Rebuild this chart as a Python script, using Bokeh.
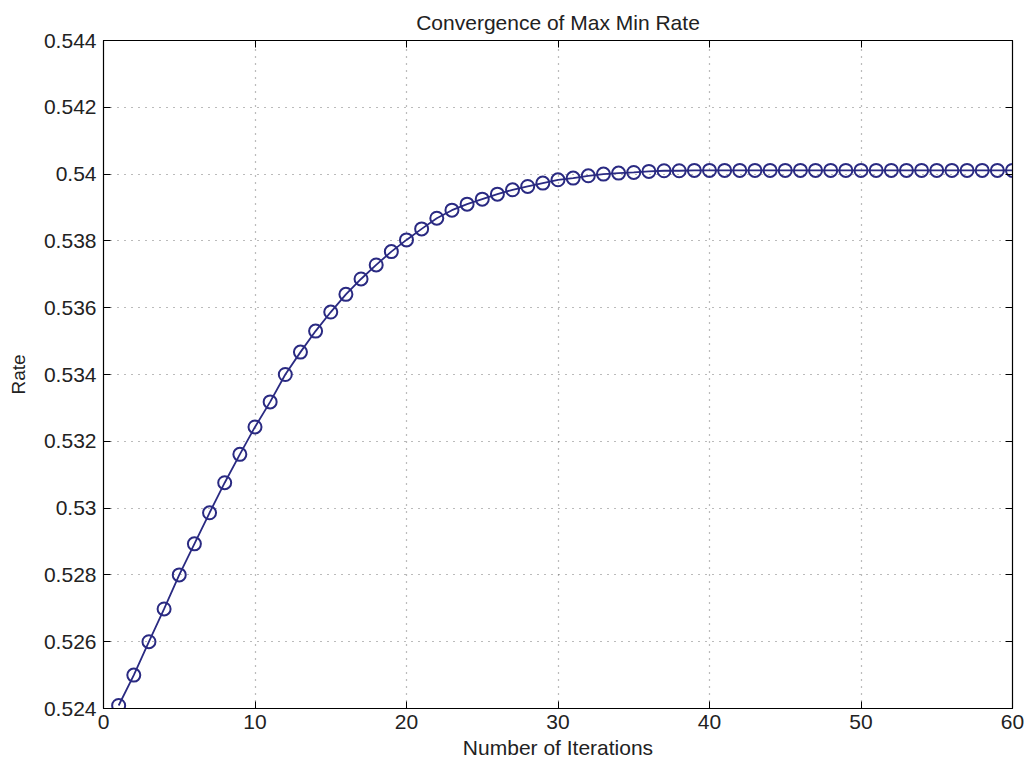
from bokeh.plotting import figure
from bokeh.models import Range1d, LinearAxis, FixedTicker, CustomJSTickFormatter
from bokeh.embed import file_html
from bokeh.resources import INLINE

iterations = list(range(1, 61))
rate = [
    0.52409, 0.52500, 0.52600, 0.52698, 0.52800, 0.52893, 0.52986, 0.53076, 0.53161, 0.53243,
    0.53318, 0.53400, 0.53467, 0.53530, 0.53587, 0.53640, 0.53686, 0.53728, 0.53768, 0.53803,
    0.53836, 0.53868, 0.53892, 0.53910, 0.53925, 0.53940, 0.53953, 0.53963, 0.53973, 0.53983,
    0.53988, 0.53995, 0.54000, 0.54003, 0.54005, 0.54008, 0.54010, 0.54010, 0.54011, 0.54011,
    0.54011, 0.54011, 0.54011, 0.54011, 0.54011, 0.54011, 0.54011, 0.54011, 0.54011, 0.54011,
    0.54011, 0.54011, 0.54011, 0.54011, 0.54011, 0.54011, 0.54011, 0.54011, 0.54011, 0.54011,
]
x_ticks = [0, 10, 20, 30, 40, 50, 60]
y_ticks = [0.524, 0.526, 0.528, 0.530, 0.532, 0.534, 0.536, 0.538, 0.540, 0.542, 0.544]
y_tick_labels = ["0.524", "0.526", "0.528", "0.53", "0.532", "0.534", "0.536", "0.538", "0.54", "0.542", "0.544"]

title_text = "Convergence of Max Min Rate"
x_label = "Number of Iterations"
y_label = "Rate"

FONT = "Liberation Sans"
LINE_COLOR = "#2a2a82"
TEXT_COLOR = "#222222"

p = figure(width=1026, height=763, output_backend="svg", toolbar_location=None,
           x_range=Range1d(0, 60), y_range=Range1d(0.524, 0.544),
           min_border_left=103, min_border_right=14, min_border_top=40, min_border_bottom=55)

p.title.text = title_text
p.title.align = "center"
p.title.text_font = FONT
p.title.text_font_size = "21px"
p.title.text_font_style = "normal"
p.title.text_color = TEXT_COLOR
p.title.offset = 0
p.title.standoff = 13

p.outline_line_color = "black"
p.outline_line_width = 1.2
p.outline_line_alpha = 1

for ax, ticks in ((p.xaxis[0], x_ticks), (p.yaxis[0], y_ticks)):
    ax.ticker = FixedTicker(ticks=ticks)
    ax.major_tick_in = 7
    ax.major_tick_out = 0
    ax.minor_tick_in = 0
    ax.minor_tick_out = 0
    ax.axis_line_color = "black"
    ax.major_tick_line_color = "black"
    ax.major_label_text_font = FONT
    ax.major_label_text_font_size = "21px"
    ax.major_label_text_color = TEXT_COLOR
    ax.axis_label_text_font = FONT
    ax.axis_label_text_font_style = "normal"
    ax.axis_label_text_color = TEXT_COLOR

p.xaxis[0].axis_label = x_label
p.xaxis[0].axis_label_text_font_size = "21px"
p.xaxis[0].major_label_standoff = 6
p.xaxis[0].axis_label_standoff = 4
p.yaxis[0].axis_label = y_label
p.yaxis[0].axis_label_text_font_size = "19px"
p.yaxis[0].major_label_standoff = 7
p.yaxis[0].axis_label_standoff = 12
p.yaxis[0].major_label_overrides = {t: l for t, l in zip(y_ticks, y_tick_labels)}

blank = CustomJSTickFormatter(code="return '';")
for loc, ticks in (("right", y_ticks), ("above", x_ticks)):
    ax = LinearAxis(ticker=FixedTicker(ticks=ticks), formatter=blank)
    ax.major_tick_in = 7
    ax.major_tick_out = 0
    ax.minor_tick_in = 0
    ax.minor_tick_out = 0
    ax.major_label_text_font_size = "1px"
    ax.major_label_standoff = 0
    ax.axis_line_color = "black"
    p.add_layout(ax, loc)

p.xgrid.ticker = FixedTicker(ticks=x_ticks)
p.ygrid.ticker = FixedTicker(ticks=y_ticks)
for g in (p.xgrid, p.ygrid):
    g.grid_line_color = "#555555"
    g.grid_line_dash = "1 6"
    g.grid_line_width = 1.2
    g.grid_line_alpha = 0.8

p.line(iterations, rate, line_color=LINE_COLOR, line_width=1.8)
p.scatter(iterations, rate, marker="circle", size=13, fill_color=None,
          line_color=LINE_COLOR, line_width=2)

open("out.html", "w").write(file_html(p, INLINE))
